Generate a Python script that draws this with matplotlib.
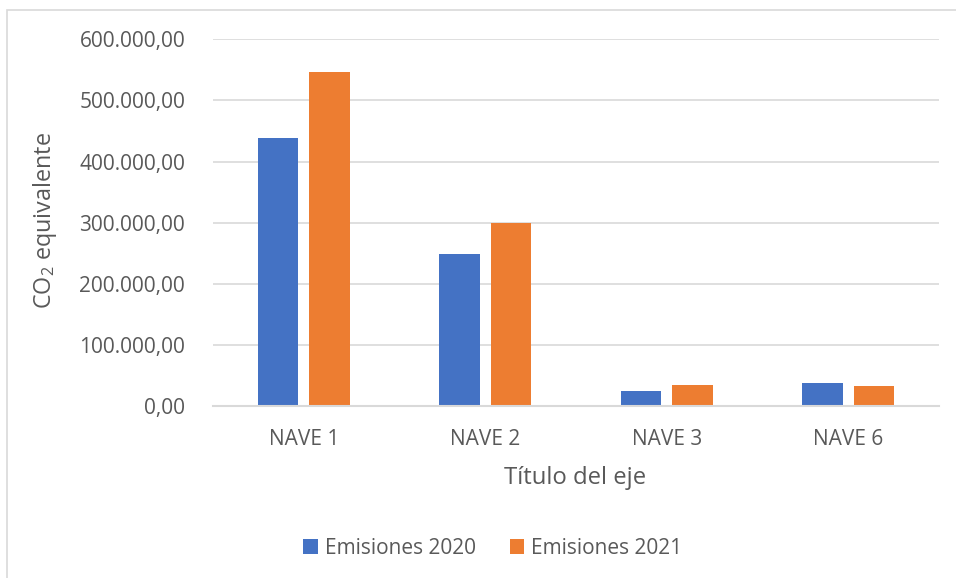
import matplotlib
matplotlib.use("Agg")
import matplotlib.pyplot as plt
from matplotlib.patches import Rectangle
from matplotlib.ticker import FuncFormatter
import numpy as np

categories = ["NAVE 1", "NAVE 2", "NAVE 3", "NAVE 6"]
emisiones_2020 = [438100, 249000, 25600, 38600]
emisiones_2021 = [546500, 299700, 34300, 32700]
series_names = ["Emisiones 2020", "Emisiones 2021"]
y_ticks = [0, 100000, 200000, 300000, 400000, 500000, 600000]

plt.rcParams['font.family'] = ['Open Sans', 'DejaVu Sans']
plt.rcParams['mathtext.fontset'] = 'custom'
plt.rcParams['mathtext.rm'] = 'Open Sans'
plt.rcParams['mathtext.it'] = 'Open Sans'

TXT = '#595959'
BLUE = '#4472C4'
ORANGE = '#ED7D31'
GRID = '#D9D9D9'

fig = plt.figure(figsize=(9.56, 5.78), dpi=100)
ax = fig.add_axes([213/956, 1-406.3/578, (939-213)/956, (406.3-39.3)/578])

x = np.arange(len(categories))
w = 0.224
gap = 0.058
off = (w + gap) / 2
ax.bar(x - off, emisiones_2020, width=w, color=BLUE, label=series_names[0], zorder=3)
ax.bar(x + off, emisiones_2021, width=w, color=ORANGE, label=series_names[1], zorder=3)

ax.set_xlim(-0.5, len(categories) - 0.5)
ax.set_ylim(0, 600000)
ax.set_yticks(y_ticks)

def fmt(v, pos):
    s = f"{v:,.2f}"
    return s.replace(",", "X").replace(".", ",").replace("X", ".")
ax.yaxis.set_major_formatter(FuncFormatter(fmt))
ax.set_xticks(x)
ax.set_xticklabels(categories)

ax.grid(axis='y', color=GRID, linewidth=1.2, zorder=0)
for s in ['top', 'right', 'left']:
    ax.spines[s].set_visible(False)
ax.spines['bottom'].set_color(GRID)
ax.spines['bottom'].set_linewidth(1.5)
ax.spines['bottom'].set_zorder(4)
ax.tick_params(axis='both', length=0, colors=TXT, labelsize=15)
ax.tick_params(axis='y', pad=20)
ax.tick_params(axis='x', pad=16)

fig.text(45/956, 1-220/578, "CO$_2$ equivalente", rotation=90, ha='center', va='center',
         color=TXT, fontsize=16.8)
fig.text(575/956, 1-478/578, "Título del eje", ha='center', va='center', color=TXT, fontsize=17.2)

leg = fig.legend(loc='center', bbox_to_anchor=(493/956, 1-548/578), ncol=2, frameon=False,
                 fontsize=15, handlelength=0.7, handleheight=0.7, handletextpad=0.35,
                 columnspacing=1.6, labelcolor=TXT)

fig.patches.append(Rectangle((7/956, -0.1), 1.2, 1 - 10.3/578 + 0.1, transform=fig.transFigure,
                             fill=False, edgecolor='#D9D9D9', linewidth=1.2))

fig.savefig("out.png", dpi=100)
